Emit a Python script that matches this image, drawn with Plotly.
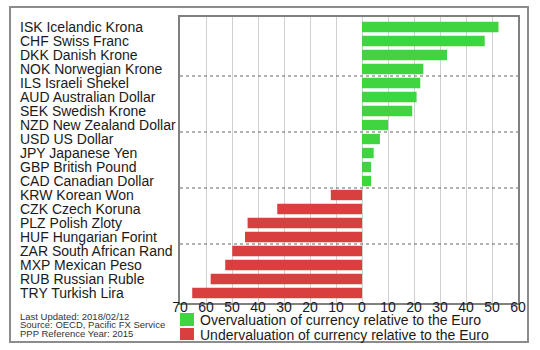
import plotly.graph_objects as go

currencies = [
    "ISK Icelandic Krona", "CHF Swiss Franc", "DKK Danish Krone", "NOK Norwegian Krone",
    "ILS Israeli Shekel", "AUD Australian Dollar", "SEK Swedish Krone", "NZD New Zealand Dollar",
    "USD US Dollar", "JPY Japanese Yen", "GBP British Pound", "CAD Canadian Dollar",
    "KRW Korean Won", "CZK Czech Koruna", "PLZ Polish Zloty", "HUF Hungarian Forint",
    "ZAR South African Rand", "MXP Mexican Peso", "RUB Russian Ruble", "TRY Turkish Lira",
]
valuation = [52.5, 47.2, 32.7, 23.6, 22.4, 21.0, 19.3, 10.0, 6.9, 4.5, 3.5, 3.5,
             -12.0, -32.6, -44.0, -45.0, -49.9, -52.6, -58.2, -65.3]
tick_values = [-70, -60, -50, -40, -30, -20, -10, 0, 10, 20, 30, 40, 50, 60]
tick_labels = ["70", "60", "50", "40", "30", "20", "10", "0", "10", "20", "30", "40", "50", "60"]
legend_labels = ["Overvaluation of currency relative to the Euro",
                 "Undervaluation of currency relative to the Euro"]
footnotes = ["Last Updated: 2018/02/12", "Source: OECD, Pacific FX Service",
             "PPP Reference Year: 2015"]
group_boundaries = [3.5, 7.5, 11.5, 15.5]

GREEN = "#41d441"
RED = "#d83f3f"
FONT = "Liberation Sans, Arial, Helvetica, sans-serif"

W, H = 540, 350
L, R, T, B = 180, 518, 17, 303


def xp(px):
    return (px - L) / (R - L)


def yp(py):
    return (B - py) / (B - T)


colors = [GREEN if v >= 0 else RED for v in valuation]

fig = go.Figure(go.Bar(
    x=valuation, y=currencies, orientation="h",
    marker=dict(color=colors, line=dict(width=0)),
    width=0.74, showlegend=False, hoverinfo="x+y",
))

shapes = []
for b in group_boundaries:
    shapes.append(dict(type="line", xref="paper", x0=0, x1=1, yref="y", y0=b, y1=b,
                       line=dict(color="#666666", width=1, dash="dot"), layer="above"))
# outer frame
shapes.append(dict(type="rect", xref="paper", yref="paper",
                   x0=xp(10), x1=xp(528), y0=yp(342), y1=yp(7),
                   line=dict(color="#8c8c8c", width=2)))
# legend swatches
shapes.append(dict(type="rect", xref="paper", yref="paper", x0=xp(180), x1=xp(194),
                   y0=yp(326), y1=yp(313), fillcolor=GREEN, line=dict(width=0)))
shapes.append(dict(type="rect", xref="paper", yref="paper", x0=xp(180), x1=xp(194),
                   y0=yp(340), y1=yp(328), fillcolor=RED, line=dict(width=0)))

annotations = []
for c in currencies:
    annotations.append(dict(text=c, xref="paper", x=xp(18), xanchor="left",
                            yref="y", y=c, yanchor="middle", showarrow=False,
                            font=dict(size=14, color="#1a1a1a", family=FONT)))
for i, t in enumerate(legend_labels):
    annotations.append(dict(text=t, xref="paper", x=xp(198), xanchor="left",
                            yref="paper", y=yp(320 + 14.5 * i), yanchor="middle",
                            showarrow=False,
                            font=dict(size=14, color="#1a1a1a", family=FONT)))
for i, t in enumerate(footnotes):
    annotations.append(dict(text=t, xref="paper", x=xp(18), xanchor="left",
                            yref="paper", y=yp(316 + 8.8 * i), yanchor="middle",
                            showarrow=False,
                            font=dict(size=9.5, color="#333333", family=FONT)))

fig.update_layout(
    width=W, height=H,
    margin=dict(l=L, r=W - R, t=T, b=H - B),
    paper_bgcolor="white", plot_bgcolor="white",
    font=dict(family=FONT, size=14, color="#1a1a1a"),
    bargap=0.26,
    xaxis=dict(range=[-70, 60], tickvals=tick_values, ticktext=tick_labels,
               showgrid=True, gridcolor="#d0d0d0", gridwidth=1, zeroline=False,
               showline=True, linecolor="#808080", linewidth=2, mirror=True,
               ticks="", ticklen=0, ticklabelstandoff=-10,
               tickfont=dict(size=14, color="#1a1a1a")),
    yaxis=dict(categoryorder="array", categoryarray=currencies, autorange="reversed",
               showticklabels=False, showgrid=False, zeroline=False,
               showline=True, linecolor="#808080", linewidth=2, mirror=True,
               range=[19.5, -0.5]),
    shapes=shapes, annotations=annotations,
)

fig.write_html("out.html")
